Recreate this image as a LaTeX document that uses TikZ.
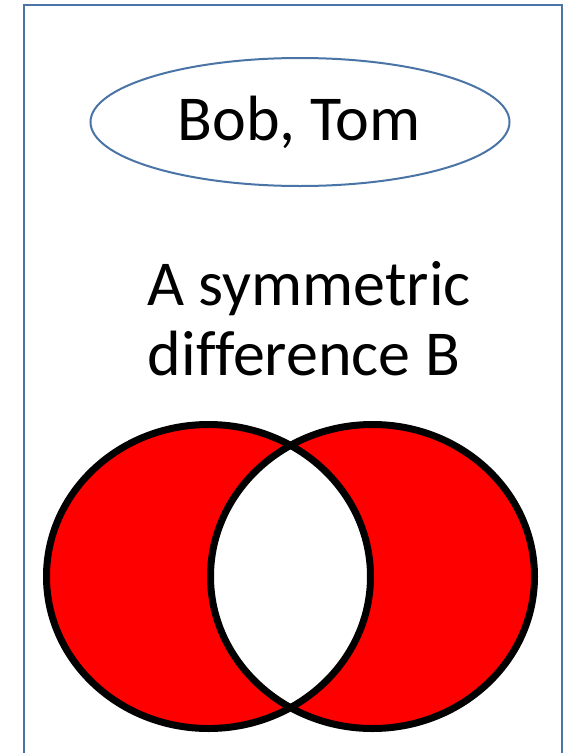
\documentclass[tikz,border=0pt]{standalone}
\usepackage{fontspec}
\setmainfont{Carlito}[Ligatures={NoCommon}]
\usetikzlibrary{shapes.geometric}
\definecolor{frameblue}{HTML}{4A74A6}
\tikzset{
  framebox/.style={draw=frameblue, line width=2pt},
  nameoval/.style={ellipse, draw=frameblue, line width=2pt, minimum width=419pt, minimum height=128pt, inner sep=0pt},
  bigtext/.style={font=\fontsize{64}{70}\selectfont, inner sep=0pt},
  vennline/.style={draw=black, line width=7pt},
}
\begin{document}
\begin{tikzpicture}[x=1pt,y=-1pt]
\useasboundingbox (0,0) rectangle (572,753);
\draw[framebox] (23.5,770) -- (23.5,4.5) -- (561.5,4.5) -- (561.5,770);
\node[nameoval] (oval) at (300,122) {};
\node[bigtext, anchor=base] (names) at (299,140) {Bob, Tom};
\node[bigtext, anchor=base] (t1) at (309,305) {A symmetric};
\node[bigtext, anchor=base] (t2) at (304,375) {difference B};
\fill[red, even odd rule] (208.5,576.5) ellipse [x radius=162, y radius=152]
                          (372.5,576.5) ellipse [x radius=162, y radius=152];
\draw[vennline] (208.5,576.5) ellipse [x radius=162, y radius=152];
\draw[vennline] (372.5,576.5) ellipse [x radius=162, y radius=152];
\end{tikzpicture}
\end{document}
